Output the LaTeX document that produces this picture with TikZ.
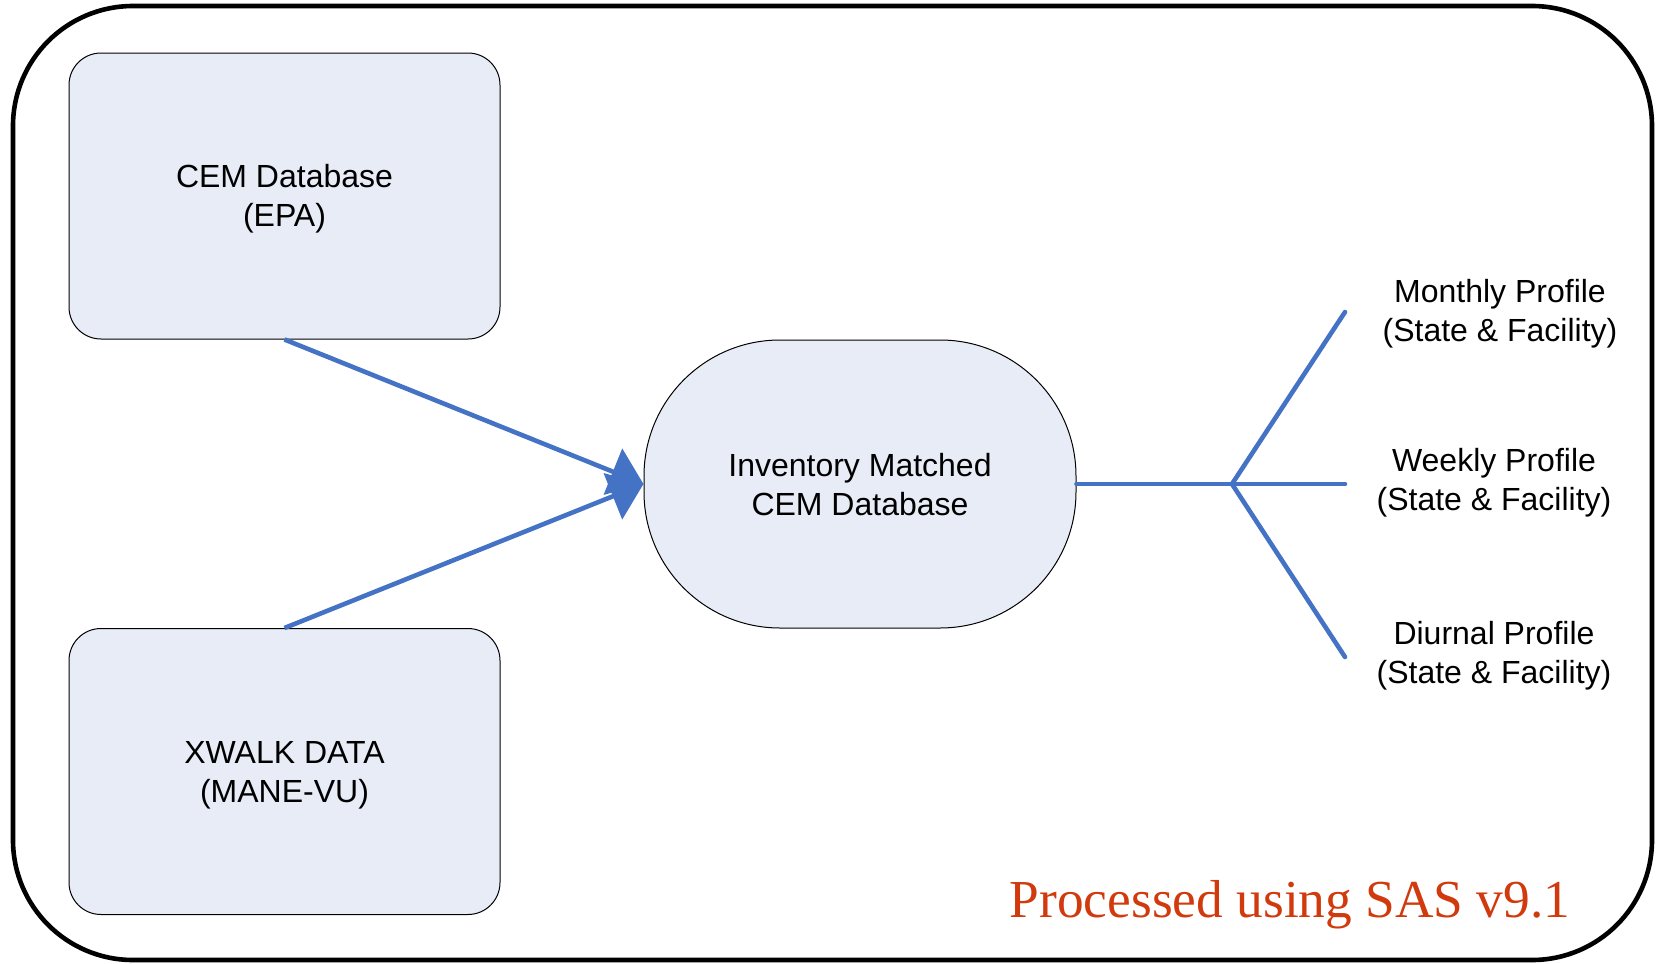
\documentclass[tikz,border=0pt]{standalone}
\usepackage{fontspec}
\setmainfont{Liberation Sans}
\newfontfamily\timesfont{Liberation Serif}
\usetikzlibrary{arrows.meta}
\definecolor{lineblue}{RGB}{68,114,196}
\definecolor{boxfill}{RGB}{231,236,246}
\definecolor{sasred}{RGB}{208,58,12}
\tikzset{
  databox/.style={draw=black, line width=0.5pt, fill=boxfill, rounded corners=16pt,
    minimum width=215.5pt, minimum height=143pt, align=center, inner sep=0pt,
    font=\fontsize{16}{19.5}\selectfont},
  stadium/.style={draw=black, line width=0.5pt, fill=boxfill, rounded corners=68pt,
    minimum width=216pt, minimum height=144pt, align=center, inner sep=0pt,
    font=\fontsize{16}{19.5}\selectfont},
  flow/.style={draw=lineblue, line width=2.3pt},
  flowarrow/.style={flow, -{Triangle[length=16.5pt,width=24.5pt]}},
  label/.style={align=center, inner sep=0pt, font=\fontsize{16}{19.5}\selectfont},
  frame/.style={draw=black, line width=2.3pt, rounded corners=60pt}
}
\begin{document}
\begin{tikzpicture}[x=0.5pt,y=-0.5pt]
\useasboundingbox (0,0) rectangle (1662,964);
\draw[frame] (13,6) rectangle (1652,960);
\node[databox] (cem) at (284.5,196) {};
\node[label] (cemtext) at (284.5,199) {CEM Database\\(EPA)};
\node[databox] (xwalk) at (284.5,771.5) {};
\node[label] (xwalktext) at (284.5,775) {XWALK DATA\\(MANE-VU)};
\node[stadium] (inv) at (860,484) {};
\node[label] (invtext) at (860,485) {Inventory Matched\\CEM Database};
\draw[flowarrow] (cem.south) -- (inv.west);
\draw[flowarrow] (xwalk.north) -- (inv.west);
\coordinate (j) at (1232,484);
\coordinate (t1) at (1345,312);
\coordinate (t2) at (1345,484);
\coordinate (t3) at (1345,657);
\draw[flow, line cap=round] (inv.east) -- (j);
\draw[flow, line cap=round] (j) -- (t1);
\draw[flow, line cap=round] (j) -- (t2);
\draw[flow, line cap=round] (j) -- (t3);
\node[label] (monthly) at (1500,314) {Monthly Profile\\(State \& Facility)};
\node[label] (weekly) at (1494,483) {Weekly Profile\\(State \& Facility)};
\node[label] (diurnal) at (1494,656) {Diurnal Profile\\(State \& Facility)};
\node[inner sep=0pt, text=sasred, font=\timesfont\fontsize{26.7}{32}\selectfont] (sas) at (1290,905) {Processed using SAS v9.1};
\end{tikzpicture}
\end{document}
